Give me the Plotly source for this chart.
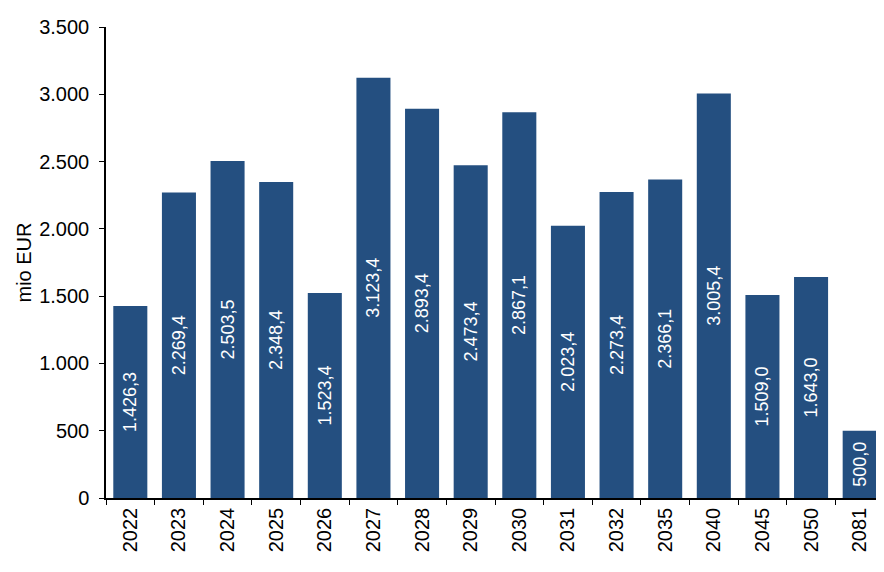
import plotly.graph_objects as go

years = ["2022", "2023", "2024", "2025", "2026", "2027", "2028", "2029", "2030",
         "2031", "2032", "2035", "2040", "2045", "2050", "2081"]
values = [1426.3, 2269.4, 2503.5, 2348.4, 1523.4, 3123.4, 2893.4, 2473.4, 2867.1,
          2023.4, 2273.4, 2366.1, 3005.4, 1509.0, 1643.0, 500.0]
y_ticks = [0, 500, 1000, 1500, 2000, 2500, 3000, 3500]

FONT = "Arial, Liberation Sans, sans-serif"

fig = go.Figure(go.Bar(
    x=years, y=values,
    marker=dict(color="#244F80", line=dict(width=0)),
    width=0.7,
    texttemplate="%{y:,.1f}",
    textposition="inside",
    insidetextanchor="middle",
    textangle=-90,
    insidetextfont=dict(color="white", size=18, family=FONT),
    cliponaxis=False,
))

# page body has an 8px margin, so the figure is sized to fill the rest of the window
fig.update_layout(
    width=876, height=564,
    margin=dict(l=98, r=0, t=19, b=74),
    plot_bgcolor="white", paper_bgcolor="white",
    separators=",.",
    font=dict(family=FONT, size=20, color="black"),
    showlegend=False,
    bargap=0.3,
    xaxis=dict(
        type="category",
        showline=True, linecolor="black", linewidth=1.5,
        ticks="outside", tickson="boundaries", ticklen=5, tickcolor="black",
        tickangle=-90, tickfont=dict(size=20, family=FONT),
        showgrid=False, zeroline=False,
    ),
    yaxis=dict(
        range=[0, 3500], tickvals=y_ticks, tickformat=",d",
        showline=True, linecolor="black", linewidth=1.5,
        ticks="outside", ticklen=5, tickcolor="black",
        tickfont=dict(size=20, family=FONT),
        ticklabelstandoff=6,
        showgrid=False, zeroline=False,
        title=dict(text="mio EUR", font=dict(size=20, family=FONT), standoff=2),
        automargin=False,
    ),
)

fig.write_html("out.html")
